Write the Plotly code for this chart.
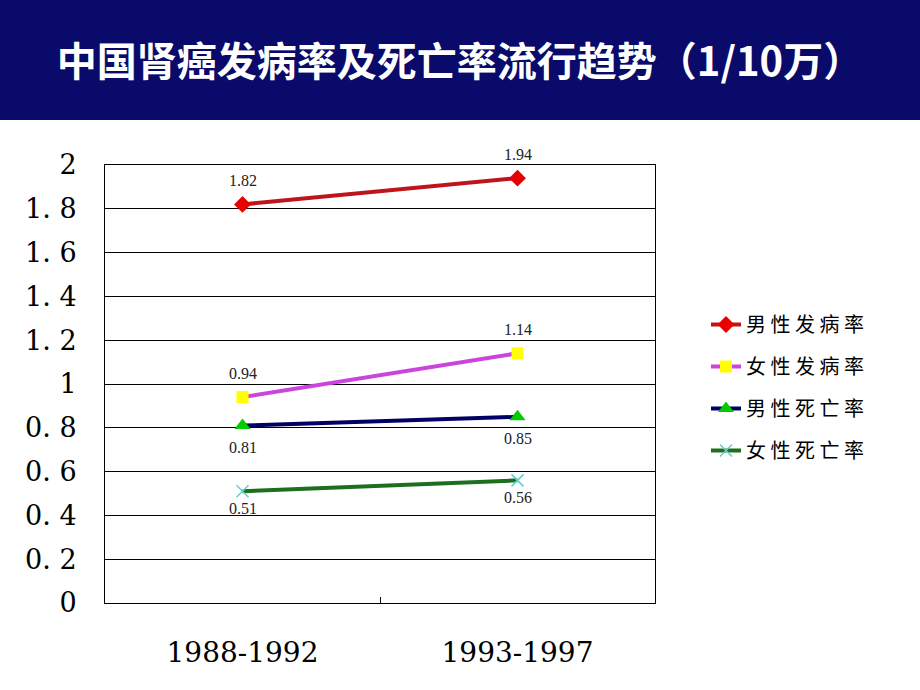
import plotly.graph_objects as go

periods = ["1988-1992", "1993-1997"]
series_names = ["男 性 发 病 率", "女 性 发 病 率", "男 性 死 亡 率", "女 性 死 亡 率"]
male_incidence = [1.82, 1.94]
female_incidence = [0.94, 1.14]
male_mortality = [0.81, 0.85]
female_mortality = [0.51, 0.56]
y_ticks = [0, 0.2, 0.4, 0.6, 0.8, 1.0, 1.2, 1.4, 1.6, 1.8, 2.0]
y_ticktext = ["0", "0. 2", "0. 4", "0. 6", "0. 8", "1", "1. 2", "1. 4", "1. 6", "1. 8", "2"]

W, H = 920, 690
L, R, T, B = 105, 655, 165, 603

styles = [
    dict(line="#c0141c", marker=dict(symbol="diamond", color="#e80000", size=13), shift=24),
    dict(line="#cc44dd", marker=dict(symbol="square", color="#ffff00", size=12), shift=24),
    dict(line="#000066", marker=dict(symbol="triangle-up", color="#00cc00", size=14), shift=-22),
    dict(line="#1e6e1e", marker=dict(symbol="x-thin", color="#66cccc", size=12,
                                     line=dict(color="#66cccc", width=1.5)), shift=-17),
]
values = [male_incidence, female_incidence, male_mortality, female_mortality]

fig = go.Figure()
for i, (name, vals, st) in enumerate(zip(series_names, values, styles)):
    fig.add_trace(go.Scatter(
        x=periods, y=vals, name=name, legendgroup=str(i),
        mode="lines+markers",
        line=dict(color=st["line"], width=4),
        marker=st["marker"],
        cliponaxis=False,
    ))
    for p, v in zip(periods, vals):
        fig.add_annotation(x=p, y=v, text=f"{v:.2f}", showarrow=False,
                           yshift=st["shift"],
                           font=dict(family="Liberation Serif", size=16, color="#222222"))

# header band
fig.add_shape(type="rect", xref="paper", yref="paper", layer="below",
              x0=-L / (R - L), x1=(W - L) / (R - L),
              y0=1 + (T - 120) / (B - T), y1=1 + T / (B - T),
              fillcolor="#0a0a6b", line=dict(width=0))

fig.update_layout(
    width=W, height=H,
    margin=dict(l=L, r=W - R, t=T, b=H - B),
    paper_bgcolor="white", plot_bgcolor="white",
    title=dict(text="<b>中国肾癌发病率及死亡率流行趋势（1/10万）</b>",
               x=0.5, xref="container", xanchor="center",
               y=1 - 62 / H, yref="container", yanchor="middle",
               font=dict(family="Noto Sans CJK SC", size=40, color="white")),
    legend=dict(x=(706 - L) / (R - L), y=1 - (305 - T) / (B - T),
                xanchor="left", yanchor="top",
                font=dict(family="Noto Sans CJK SC", size=20, color="black"),
                tracegroupgap=13, bgcolor="rgba(0,0,0,0)"),
    showlegend=True,
)
fig.update_xaxes(type="category", range=[-0.5, 1.5], showline=True, linecolor="black",
                 linewidth=1, mirror=True, showgrid=False,
                 tickson="boundaries", ticks="inside", ticklen=6, tickcolor="black",
                 tickfont=dict(family="DejaVu Serif", size=28, color="black"),
                 ticklabelstandoff=24)
fig.update_yaxes(range=[0, 2], tickvals=y_ticks, ticktext=y_ticktext,
                 showline=True, linecolor="black", mirror=True,
                 showgrid=True, gridcolor="black", gridwidth=1, zeroline=False,
                 ticks="", ticklabelstandoff=22,
                 tickfont=dict(family="DejaVu Serif", size=27, color="black"))

fig.write_html("out.html", config={"displayModeBar": False},
               post_script="document.body.style.margin='0';")
